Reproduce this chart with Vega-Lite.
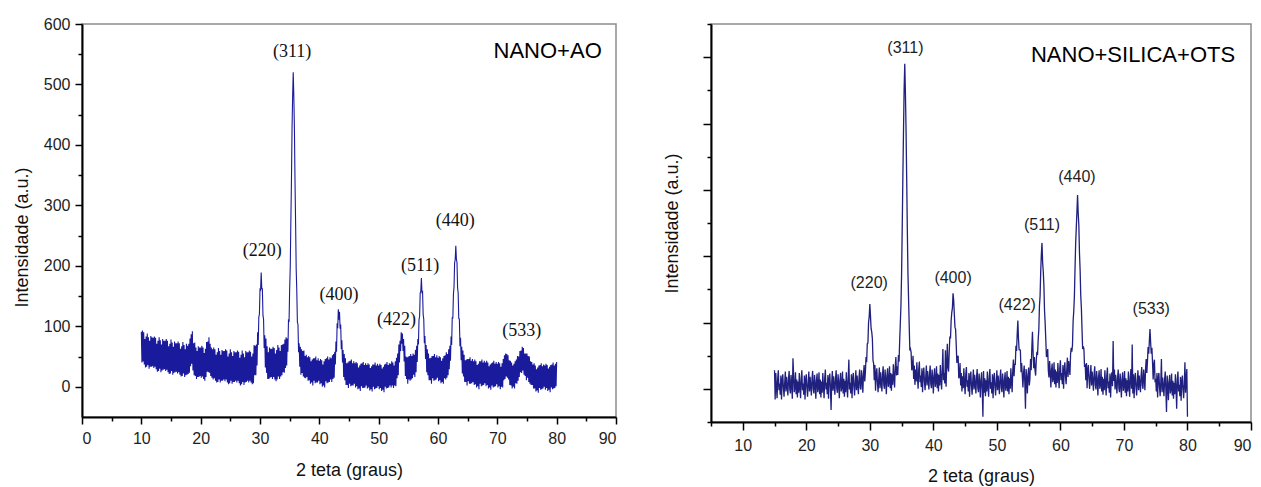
{
"$schema": "https://vega.github.io/schema/vega-lite/v6.json",
"padding": {"left": 12, "top": 15, "right": 0, "bottom": 0},
"background": "white",
"config": {
"view": {"stroke": "#8c8c8c", "strokeWidth": 1.5},
"concat": {"spacing": 44},
"axis": {"grid": false, "domainColor": "#000000", "domainWidth": 2, "tickColor": "#000000", "tickWidth": 1.5, "labelFont": "Liberation Sans", "labelFontSize": 16, "labelColor": "#1e1e1e", "labelPadding": 5, "labelOverlap": false, "titleFont": "Liberation Sans", "titleFontSize": 18, "titleFontWeight": "normal", "titleColor": "#111111"}
},
"hconcat": [
{
"width": 534, "height": 393,
"resolve": {"axis": {"x": "independent", "y": "independent"}},
"layer": [
{"data": {"values": [
{"x":10.0,"y":91},{"x":10.1,"y":40},{"x":10.2,"y":93},{"x":10.3,"y":42},{"x":10.4,"y":90},{"x":10.5,"y":37},{"x":10.6,"y":79},{"x":10.7,"y":32},{"x":10.8,"y":83},{"x":10.9,"y":33},
{"x":11.0,"y":88},{"x":11.1,"y":36},{"x":11.2,"y":82},{"x":11.3,"y":30},{"x":11.4,"y":76},{"x":11.5,"y":33},{"x":11.6,"y":84},{"x":11.7,"y":33},{"x":11.8,"y":82},{"x":11.9,"y":34},
{"x":12.0,"y":81},{"x":12.1,"y":31},{"x":12.2,"y":83},{"x":12.3,"y":33},{"x":12.4,"y":81},{"x":12.5,"y":29},{"x":12.6,"y":71},{"x":12.7,"y":25},{"x":12.8,"y":76},{"x":12.9,"y":26},
{"x":13.0,"y":82},{"x":13.1,"y":30},{"x":13.2,"y":77},{"x":13.3,"y":24},{"x":13.4,"y":70},{"x":13.5,"y":27},{"x":13.6,"y":79},{"x":13.7,"y":28},{"x":13.8,"y":76},{"x":13.9,"y":29},
{"x":14.0,"y":76},{"x":14.1,"y":26},{"x":14.2,"y":79},{"x":14.3,"y":28},{"x":14.4,"y":76},{"x":14.5,"y":24},{"x":14.6,"y":67},{"x":14.7,"y":21},{"x":14.8,"y":71},{"x":14.9,"y":22},
{"x":15.0,"y":78},{"x":15.1,"y":26},{"x":15.2,"y":73},{"x":15.3,"y":20},{"x":15.4,"y":66},{"x":15.5,"y":23},{"x":15.6,"y":75},{"x":15.7,"y":24},{"x":15.8,"y":72},{"x":15.9,"y":25},
{"x":16.0,"y":72},{"x":16.1,"y":22},{"x":16.2,"y":75},{"x":16.3,"y":24},{"x":16.4,"y":72},{"x":16.5,"y":20},{"x":16.6,"y":63},{"x":16.7,"y":17},{"x":16.8,"y":67},{"x":16.9,"y":18},
{"x":17.0,"y":74},{"x":17.1,"y":22},{"x":17.2,"y":69},{"x":17.3,"y":16},{"x":17.4,"y":62},{"x":17.5,"y":19},{"x":17.6,"y":71},{"x":17.7,"y":20},{"x":17.8,"y":68},{"x":17.9,"y":21},
{"x":18.0,"y":71},{"x":18.1,"y":23},{"x":18.2,"y":80},{"x":18.3,"y":34},{"x":18.4,"y":87},{"x":18.5,"y":38},{"x":18.6,"y":92},{"x":18.7,"y":27},{"x":18.8,"y":72},{"x":18.9,"y":19},
{"x":19.0,"y":73},{"x":19.1,"y":18},{"x":19.2,"y":65},{"x":19.3,"y":13},{"x":19.4,"y":59},{"x":19.5,"y":16},{"x":19.6,"y":67},{"x":19.7,"y":16},{"x":19.8,"y":65},{"x":19.9,"y":18},
{"x":20.0,"y":65},{"x":20.1,"y":15},{"x":20.2,"y":68},{"x":20.3,"y":17},{"x":20.4,"y":65},{"x":20.5,"y":13},{"x":20.6,"y":56},{"x":20.7,"y":10},{"x":20.8,"y":63},{"x":20.9,"y":16},
{"x":21.0,"y":74},{"x":21.1,"y":25},{"x":21.2,"y":75},{"x":21.3,"y":24},{"x":21.4,"y":82},{"x":21.5,"y":23},{"x":21.6,"y":71},{"x":21.7,"y":18},{"x":21.8,"y":65},{"x":21.9,"y":15},
{"x":22.0,"y":62},{"x":22.1,"y":12},{"x":22.2,"y":65},{"x":22.3,"y":14},{"x":22.4,"y":62},{"x":22.5,"y":10},{"x":22.6,"y":53},{"x":22.7,"y":7},{"x":22.8,"y":57},{"x":22.9,"y":8},
{"x":23.0,"y":64},{"x":23.1,"y":12},{"x":23.2,"y":59},{"x":23.3,"y":7},{"x":23.4,"y":53},{"x":23.5,"y":10},{"x":23.6,"y":61},{"x":23.7,"y":10},{"x":23.8,"y":59},{"x":23.9,"y":12},
{"x":24.0,"y":59},{"x":24.1,"y":9},{"x":24.2,"y":62},{"x":24.3,"y":12},{"x":24.4,"y":60},{"x":24.5,"y":7},{"x":24.6,"y":50},{"x":24.7,"y":4},{"x":24.8,"y":55},{"x":24.9,"y":6},
{"x":25.0,"y":62},{"x":25.1,"y":10},{"x":25.2,"y":57},{"x":25.3,"y":5},{"x":25.4,"y":51},{"x":25.5,"y":8},{"x":25.6,"y":59},{"x":25.7,"y":8},{"x":25.8,"y":57},{"x":25.9,"y":10},
{"x":26.0,"y":57},{"x":26.1,"y":7},{"x":26.2,"y":60},{"x":26.3,"y":10},{"x":26.4,"y":58},{"x":26.5,"y":6},{"x":26.6,"y":48},{"x":26.7,"y":2},{"x":26.8,"y":53},{"x":26.9,"y":4},
{"x":27.0,"y":60},{"x":27.1,"y":8},{"x":27.2,"y":55},{"x":27.3,"y":3},{"x":27.4,"y":49},{"x":27.5,"y":7},{"x":27.6,"y":59},{"x":27.7,"y":8},{"x":27.8,"y":57},{"x":27.9,"y":10},
{"x":28.0,"y":57},{"x":28.1,"y":7},{"x":28.2,"y":60},{"x":28.3,"y":10},{"x":28.4,"y":58},{"x":28.5,"y":7},{"x":28.6,"y":50},{"x":28.7,"y":4},{"x":28.8,"y":55},{"x":28.9,"y":6},
{"x":29.0,"y":69},{"x":29.1,"y":19},{"x":29.2,"y":68},{"x":29.3,"y":19},{"x":29.4,"y":70},{"x":29.5,"y":35},{"x":29.6,"y":90},{"x":29.7,"y":69},{"x":29.8,"y":115},{"x":29.9,"y":120},
{"x":30.0,"y":161},{"x":30.1,"y":160},{"x":30.2,"y":189},{"x":30.3,"y":162},{"x":30.4,"y":162},{"x":30.5,"y":118},{"x":30.6,"y":112},{"x":30.7,"y":64},{"x":30.8,"y":85},{"x":30.9,"y":32},
{"x":31.0,"y":80},{"x":31.1,"y":23},{"x":31.2,"y":67},{"x":31.3,"y":13},{"x":31.4,"y":57},{"x":31.5,"y":13},{"x":31.6,"y":65},{"x":31.7,"y":15},{"x":31.8,"y":63},{"x":31.9,"y":16},
{"x":32.0,"y":63},{"x":32.1,"y":13},{"x":32.2,"y":66},{"x":32.3,"y":16},{"x":32.4,"y":64},{"x":32.5,"y":12},{"x":32.6,"y":55},{"x":32.7,"y":9},{"x":32.8,"y":61},{"x":32.9,"y":12},
{"x":33.0,"y":69},{"x":33.1,"y":17},{"x":33.2,"y":65},{"x":33.3,"y":13},{"x":33.4,"y":59},{"x":33.5,"y":17},{"x":33.6,"y":69},{"x":33.7,"y":19},{"x":33.8,"y":70},{"x":33.9,"y":24},
{"x":34.0,"y":71},{"x":34.1,"y":23},{"x":34.2,"y":78},{"x":34.3,"y":31},{"x":34.4,"y":82},{"x":34.5,"y":35},{"x":34.6,"y":80},{"x":34.7,"y":58},{"x":34.8,"y":110},{"x":34.9,"y":109},
{"x":35.0,"y":162},{"x":35.1,"y":199},{"x":35.2,"y":273},{"x":35.3,"y":341},{"x":35.4,"y":428},{"x":35.5,"y":480},{"x":35.6,"y":520},{"x":35.7,"y":481},{"x":35.8,"y":427},{"x":35.9,"y":340},
{"x":36.0,"y":271},{"x":36.1,"y":194},{"x":36.2,"y":159},{"x":36.3,"y":107},{"x":36.4,"y":103},{"x":36.5,"y":57},{"x":36.6,"y":72},{"x":36.7,"y":33},{"x":36.8,"y":66},{"x":36.9,"y":20},
{"x":37.0,"y":62},{"x":37.1,"y":23},{"x":37.2,"y":59},{"x":37.3,"y":17},{"x":37.4,"y":60},{"x":37.5,"y":15},{"x":37.6,"y":51},{"x":37.7,"y":14},{"x":37.8,"y":53},{"x":37.9,"y":16},
{"x":38.0,"y":49},{"x":38.1,"y":10},{"x":38.2,"y":51},{"x":38.3,"y":11},{"x":38.4,"y":49},{"x":38.5,"y":5},{"x":38.6,"y":42},{"x":38.7,"y":7},{"x":38.8,"y":45},{"x":38.9,"y":2},
{"x":39.0,"y":47},{"x":39.1,"y":10},{"x":39.2,"y":47},{"x":39.3,"y":6},{"x":39.4,"y":50},{"x":39.5,"y":7},{"x":39.6,"y":44},{"x":39.7,"y":7},{"x":39.8,"y":47},{"x":39.9,"y":10},
{"x":40.0,"y":43},{"x":40.1,"y":4},{"x":40.2,"y":46},{"x":40.3,"y":6},{"x":40.4,"y":44},{"x":40.5,"y":0},{"x":40.6,"y":37},{"x":40.7,"y":2},{"x":40.8,"y":42},{"x":40.9,"y":-1},
{"x":41.0,"y":46},{"x":41.1,"y":9},{"x":41.2,"y":47},{"x":41.3,"y":6},{"x":41.4,"y":50},{"x":41.5,"y":7},{"x":41.6,"y":45},{"x":41.7,"y":8},{"x":41.8,"y":49},{"x":41.9,"y":12},
{"x":42.0,"y":47},{"x":42.1,"y":8},{"x":42.2,"y":52},{"x":42.3,"y":13},{"x":42.4,"y":54},{"x":42.5,"y":15},{"x":42.6,"y":58},{"x":42.7,"y":37},{"x":42.8,"y":75},{"x":42.9,"y":58},
{"x":43.0,"y":105},{"x":43.1,"y":97},{"x":43.2,"y":128},{"x":43.3,"y":111},{"x":43.4,"y":124},{"x":43.5,"y":96},{"x":43.6,"y":103},{"x":43.7,"y":62},{"x":43.8,"y":77},{"x":43.9,"y":40},
{"x":44.0,"y":61},{"x":44.1,"y":16},{"x":44.2,"y":54},{"x":44.3,"y":11},{"x":44.4,"y":47},{"x":44.5,"y":3},{"x":44.6,"y":39},{"x":44.7,"y":3},{"x":44.8,"y":40},{"x":44.9,"y":-2},
{"x":45.0,"y":42},{"x":45.1,"y":5},{"x":45.2,"y":43},{"x":45.3,"y":1},{"x":45.4,"y":45},{"x":45.5,"y":2},{"x":45.6,"y":39},{"x":45.7,"y":2},{"x":45.8,"y":42},{"x":45.9,"y":5},
{"x":46.0,"y":39},{"x":46.1,"y":-1},{"x":46.2,"y":41},{"x":46.3,"y":1},{"x":46.4,"y":39},{"x":46.5,"y":-4},{"x":46.6,"y":32},{"x":46.7,"y":-3},{"x":46.8,"y":35},{"x":46.9,"y":-7},
{"x":47.0,"y":38},{"x":47.1,"y":1},{"x":47.2,"y":39},{"x":47.3,"y":-2},{"x":47.4,"y":41},{"x":47.5,"y":-2},{"x":47.6,"y":36},{"x":47.7,"y":-1},{"x":47.8,"y":39},{"x":47.9,"y":2},
{"x":48.0,"y":36},{"x":48.1,"y":-3},{"x":48.2,"y":39},{"x":48.3,"y":-1},{"x":48.4,"y":37},{"x":48.5,"y":-6},{"x":48.6,"y":31},{"x":48.7,"y":-4},{"x":48.8,"y":34},{"x":48.9,"y":-8},
{"x":49.0,"y":37},{"x":49.1,"y":0},{"x":49.2,"y":37},{"x":49.3,"y":-4},{"x":49.4,"y":40},{"x":49.5,"y":-3},{"x":49.6,"y":35},{"x":49.7,"y":-2},{"x":49.8,"y":38},{"x":49.9,"y":1},
{"x":50.0,"y":35},{"x":50.1,"y":-4},{"x":50.2,"y":38},{"x":50.3,"y":-2},{"x":50.4,"y":36},{"x":50.5,"y":-7},{"x":50.6,"y":30},{"x":50.7,"y":-5},{"x":50.8,"y":33},{"x":50.9,"y":-9},
{"x":51.0,"y":37},{"x":51.1,"y":0},{"x":51.2,"y":38},{"x":51.3,"y":-3},{"x":51.4,"y":41},{"x":51.5,"y":-2},{"x":51.6,"y":36},{"x":51.7,"y":-1},{"x":51.8,"y":39},{"x":51.9,"y":2},
{"x":52.0,"y":38},{"x":52.1,"y":-1},{"x":52.2,"y":42},{"x":52.3,"y":2},{"x":52.4,"y":40},{"x":52.5,"y":-2},{"x":52.6,"y":35},{"x":52.7,"y":2},{"x":52.8,"y":42},{"x":52.9,"y":1},
{"x":53.0,"y":48},{"x":53.1,"y":14},{"x":53.2,"y":55},{"x":53.3,"y":19},{"x":53.4,"y":70},{"x":53.5,"y":40},{"x":53.6,"y":76},{"x":53.7,"y":59},{"x":53.8,"y":90},{"x":53.9,"y":71},
{"x":54.0,"y":88},{"x":54.1,"y":59},{"x":54.2,"y":79},{"x":54.3,"y":42},{"x":54.4,"y":68},{"x":54.5,"y":18},{"x":54.6,"y":50},{"x":54.7,"y":13},{"x":54.8,"y":49},{"x":54.9,"y":5},
{"x":55.0,"y":50},{"x":55.1,"y":12},{"x":55.2,"y":51},{"x":55.3,"y":10},{"x":55.4,"y":54},{"x":55.5,"y":12},{"x":55.6,"y":51},{"x":55.7,"y":14},{"x":55.8,"y":55},{"x":55.9,"y":20},
{"x":56.0,"y":53},{"x":56.1,"y":16},{"x":56.2,"y":61},{"x":56.3,"y":24},{"x":56.4,"y":68},{"x":56.5,"y":41},{"x":56.6,"y":79},{"x":56.7,"y":70},{"x":56.8,"y":111},{"x":56.9,"y":116},
{"x":57.0,"y":155},{"x":57.1,"y":158},{"x":57.2,"y":180},{"x":57.3,"y":156},{"x":57.4,"y":157},{"x":57.5,"y":119},{"x":57.6,"y":112},{"x":57.7,"y":72},{"x":57.8,"y":84},{"x":57.9,"y":46},
{"x":58.0,"y":69},{"x":58.1,"y":24},{"x":58.2,"y":62},{"x":58.3,"y":19},{"x":58.4,"y":55},{"x":58.5,"y":11},{"x":58.6,"y":47},{"x":58.7,"y":11},{"x":58.8,"y":48},{"x":58.9,"y":5},
{"x":59.0,"y":51},{"x":59.1,"y":14},{"x":59.2,"y":51},{"x":59.3,"y":10},{"x":59.4,"y":54},{"x":59.5,"y":11},{"x":59.6,"y":49},{"x":59.7,"y":12},{"x":59.8,"y":52},{"x":59.9,"y":15},
{"x":60.0,"y":48},{"x":60.1,"y":9},{"x":60.2,"y":51},{"x":60.3,"y":11},{"x":60.4,"y":49},{"x":60.5,"y":6},{"x":60.6,"y":43},{"x":60.7,"y":8},{"x":60.8,"y":47},{"x":60.9,"y":5},
{"x":61.0,"y":51},{"x":61.1,"y":14},{"x":61.2,"y":52},{"x":61.3,"y":12},{"x":61.4,"y":57},{"x":61.5,"y":15},{"x":61.6,"y":54},{"x":61.7,"y":19},{"x":61.8,"y":62},{"x":61.9,"y":29},
{"x":62.0,"y":68},{"x":62.1,"y":43},{"x":62.2,"y":83},{"x":62.3,"y":69},{"x":62.4,"y":115},{"x":62.5,"y":113},{"x":62.6,"y":153},{"x":62.7,"y":165},{"x":62.8,"y":205},{"x":62.9,"y":210},
{"x":63.0,"y":233},{"x":63.1,"y":211},{"x":63.2,"y":206},{"x":63.3,"y":164},{"x":63.4,"y":155},{"x":63.5,"y":113},{"x":63.6,"y":112},{"x":63.7,"y":67},{"x":63.8,"y":81},{"x":63.9,"y":44},
{"x":64.0,"y":66},{"x":64.1,"y":22},{"x":64.2,"y":60},{"x":64.3,"y":17},{"x":64.4,"y":53},{"x":64.5,"y":8},{"x":64.6,"y":44},{"x":64.7,"y":8},{"x":64.8,"y":45},{"x":64.9,"y":2},
{"x":65.0,"y":46},{"x":65.1,"y":9},{"x":65.2,"y":46},{"x":65.3,"y":5},{"x":65.4,"y":49},{"x":65.5,"y":5},{"x":65.6,"y":43},{"x":65.7,"y":6},{"x":65.8,"y":46},{"x":65.9,"y":8},
{"x":66.0,"y":42},{"x":66.1,"y":3},{"x":66.2,"y":45},{"x":66.3,"y":4},{"x":66.4,"y":42},{"x":66.5,"y":-1},{"x":66.6,"y":36},{"x":66.7,"y":1},{"x":66.8,"y":38},{"x":66.9,"y":-4},
{"x":67.0,"y":42},{"x":67.1,"y":5},{"x":67.2,"y":42},{"x":67.3,"y":1},{"x":67.4,"y":45},{"x":67.5,"y":2},{"x":67.6,"y":40},{"x":67.7,"y":3},{"x":67.8,"y":43},{"x":67.9,"y":6},
{"x":68.0,"y":40},{"x":68.1,"y":1},{"x":68.2,"y":43},{"x":68.3,"y":3},{"x":68.4,"y":40},{"x":68.5,"y":-3},{"x":68.6,"y":34},{"x":68.7,"y":-1},{"x":68.8,"y":37},{"x":68.9,"y":-5},
{"x":69.0,"y":39},{"x":69.1,"y":2},{"x":69.2,"y":40},{"x":69.3,"y":-1},{"x":69.4,"y":43},{"x":69.5,"y":0},{"x":69.6,"y":38},{"x":69.7,"y":1},{"x":69.8,"y":41},{"x":69.9,"y":4},
{"x":70.0,"y":38},{"x":70.1,"y":-1},{"x":70.2,"y":41},{"x":70.3,"y":1},{"x":70.4,"y":39},{"x":70.5,"y":-4},{"x":70.6,"y":33},{"x":70.7,"y":0},{"x":70.8,"y":39},{"x":70.9,"y":-1},
{"x":71.0,"y":46},{"x":71.1,"y":11},{"x":71.2,"y":52},{"x":71.3,"y":13},{"x":71.4,"y":55},{"x":71.5,"y":17},{"x":71.6,"y":54},{"x":71.7,"y":15},{"x":71.8,"y":52},{"x":71.9,"y":12},
{"x":72.0,"y":44},{"x":72.1,"y":3},{"x":72.2,"y":43},{"x":72.3,"y":2},{"x":72.4,"y":40},{"x":72.5,"y":-3},{"x":72.6,"y":35},{"x":72.7,"y":0},{"x":72.8,"y":38},{"x":72.9,"y":-3},
{"x":73.0,"y":42},{"x":73.1,"y":6},{"x":73.2,"y":45},{"x":73.3,"y":5},{"x":73.4,"y":51},{"x":73.5,"y":10},{"x":73.6,"y":50},{"x":73.7,"y":16},{"x":73.8,"y":59},{"x":73.9,"y":24},
{"x":74.0,"y":60},{"x":74.1,"y":23},{"x":74.2,"y":66},{"x":74.3,"y":27},{"x":74.4,"y":64},{"x":74.5,"y":20},{"x":74.6,"y":55},{"x":74.7,"y":18},{"x":74.8,"y":55},{"x":74.9,"y":11},
{"x":75.0,"y":55},{"x":75.1,"y":15},{"x":75.2,"y":51},{"x":75.3,"y":8},{"x":75.4,"y":50},{"x":75.5,"y":5},{"x":75.6,"y":42},{"x":75.7,"y":3},{"x":75.8,"y":41},{"x":75.9,"y":3},
{"x":76.0,"y":37},{"x":76.1,"y":-3},{"x":76.2,"y":39},{"x":76.3,"y":-3},{"x":76.4,"y":35},{"x":76.5,"y":-8},{"x":76.6,"y":29},{"x":76.7,"y":-6},{"x":76.8,"y":32},{"x":76.9,"y":-10},
{"x":77.0,"y":35},{"x":77.1,"y":-2},{"x":77.2,"y":36},{"x":77.3,"y":-5},{"x":77.4,"y":39},{"x":77.5,"y":-4},{"x":77.6,"y":34},{"x":77.7,"y":-3},{"x":77.8,"y":37},{"x":77.9,"y":0},
{"x":78.0,"y":35},{"x":78.1,"y":-5},{"x":78.2,"y":38},{"x":78.3,"y":-2},{"x":78.4,"y":36},{"x":78.5,"y":-7},{"x":78.6,"y":30},{"x":78.7,"y":-5},{"x":78.8,"y":33},{"x":78.9,"y":-9},
{"x":79.0,"y":36},{"x":79.1,"y":-1},{"x":79.2,"y":37},{"x":79.3,"y":-4},{"x":79.4,"y":40},{"x":79.5,"y":-3},{"x":79.6,"y":35},{"x":79.7,"y":-2},{"x":79.8,"y":38},{"x":79.9,"y":1},
{"x":80.0,"y":41}
]},
"mark": {"type": "line", "color": "#1a1a9c", "strokeWidth": 1.1},
"encoding": {
"x": {"field": "x", "type": "quantitative", "scale": {"domain": [0, 90], "nice": false, "zero": false},
"axis": {"title": "2 teta (graus)", "orient": "bottom", "values": [0,10,20,30,40,50,60,70,80,90], "tickSize": 7, "labelPadding": 6, "titlePadding": 15}},
"y": {"field": "y", "type": "quantitative", "scale": {"domain": [-50, 600], "nice": false, "zero": false},
"axis": {"title": "Intensidade (a.u.)", "orient": "left", "values": [0,100,200,300,400,500,600], "tickSize": 7, "titlePadding": 12, "titleY": 213}}
}},
{"data": {"values": [
{"x":35.4,"y":553,"label":"(311)"},{"x":30.4,"y":224,"label":"(220)"},{"x":43.3,"y":151,"label":"(400)"},{"x":53.0,"y":111,"label":"(422)"},{"x":57.0,"y":199,"label":"(511)"},{"x":62.9,"y":275,"label":"(440)"},{"x":74.1,"y":92,"label":"(533)"}
]},
"mark": {"type": "text", "font": "Liberation Serif", "fontSize": 18, "color": "#111111", "baseline": "middle", "align": "center"},
"encoding": {
"x": {"field": "x", "type": "quantitative", "axis": {"orient": "bottom", "values": [5,15,25,35,45,55,65,75,85], "tickSize": 4, "labels": false, "domain": false, "title": null}},
"y": {"field": "y", "type": "quantitative", "axis": {"orient": "left", "values": [50,150,250,350,450,550], "tickSize": 4, "labels": false, "domain": false, "title": null}},
"text": {"field": "label", "type": "nominal"}}},
{"data": {"values": [{"x":87.6,"y":556,"label":"NANO+AO"}]},
"mark": {"type": "text", "font": "Liberation Sans", "fontSize": 22, "color": "#000000", "baseline": "middle", "align": "right"},
"encoding": {"x": {"field": "x", "type": "quantitative", "axis": null}, "y": {"field": "y", "type": "quantitative", "axis": null}, "text": {"field": "label", "type": "nominal"}}}
]
},
{
"width": 540, "height": 398,
"resolve": {"axis": {"x": "independent", "y": "independent"}},
"layer": [
{"data": {"values": [
{"x":15.0,"y":28},{"x":15.1,"y":-16},{"x":15.2,"y":24},{"x":15.3,"y":3},{"x":15.4,"y":-14},{"x":15.5,"y":16},{"x":15.6,"y":28},{"x":15.7,"y":-2},{"x":15.8,"y":8},{"x":15.9,"y":-9},
{"x":16.0,"y":20},{"x":16.1,"y":-16},{"x":16.2,"y":13},{"x":16.3,"y":22},{"x":16.4,"y":1},{"x":16.5,"y":-12},{"x":16.6,"y":9},{"x":16.7,"y":26},{"x":16.8,"y":-4},{"x":16.9,"y":18},
{"x":17.0,"y":4},{"x":17.1,"y":-10},{"x":17.2,"y":15},{"x":17.3,"y":27},{"x":17.4,"y":-1},{"x":17.5,"y":-7},{"x":17.6,"y":21},{"x":17.7,"y":7},{"x":17.8,"y":-15},{"x":17.9,"y":46},
{"x":18.0,"y":23},{"x":18.1,"y":-5},{"x":18.2,"y":2},{"x":18.3,"y":25},{"x":18.4,"y":-8},{"x":18.5,"y":14},{"x":18.6,"y":-13},{"x":18.7,"y":11},{"x":18.8,"y":-6},{"x":18.9,"y":24},
{"x":19.0,"y":3},{"x":19.1,"y":-14},{"x":19.2,"y":16},{"x":19.3,"y":28},{"x":19.4,"y":-2},{"x":19.5,"y":8},{"x":19.6,"y":-9},{"x":19.7,"y":20},{"x":19.8,"y":-16},{"x":19.9,"y":13},
{"x":20.0,"y":22},{"x":20.1,"y":1},{"x":20.2,"y":-12},{"x":20.3,"y":9},{"x":20.4,"y":26},{"x":20.5,"y":-4},{"x":20.6,"y":18},{"x":20.7,"y":4},{"x":20.8,"y":-10},{"x":20.9,"y":15},
{"x":21.0,"y":27},{"x":21.1,"y":-1},{"x":21.2,"y":-7},{"x":21.3,"y":21},{"x":21.4,"y":7},{"x":21.5,"y":-15},{"x":21.6,"y":12},{"x":21.7,"y":23},{"x":21.8,"y":-5},{"x":21.9,"y":2},
{"x":22.0,"y":25},{"x":22.1,"y":-8},{"x":22.2,"y":14},{"x":22.3,"y":-13},{"x":22.4,"y":11},{"x":22.5,"y":-6},{"x":22.6,"y":24},{"x":22.7,"y":3},{"x":22.8,"y":-14},{"x":22.9,"y":16},
{"x":23.0,"y":29},{"x":23.1,"y":-1},{"x":23.2,"y":9},{"x":23.3,"y":-8},{"x":23.4,"y":21},{"x":23.5,"y":-15},{"x":23.6,"y":14},{"x":23.7,"y":23},{"x":23.8,"y":2},{"x":23.9,"y":-32},
{"x":24.0,"y":10},{"x":24.1,"y":27},{"x":24.2,"y":-3},{"x":24.3,"y":19},{"x":24.4,"y":5},{"x":24.5,"y":-9},{"x":24.6,"y":16},{"x":24.7,"y":28},{"x":24.8,"y":0},{"x":24.9,"y":-6},
{"x":25.0,"y":22},{"x":25.1,"y":8},{"x":25.2,"y":-14},{"x":25.3,"y":13},{"x":25.4,"y":24},{"x":25.5,"y":-4},{"x":25.6,"y":3},{"x":25.7,"y":26},{"x":25.8,"y":-7},{"x":25.9,"y":15},
{"x":26.0,"y":-12},{"x":26.1,"y":12},{"x":26.2,"y":-5},{"x":26.3,"y":25},{"x":26.4,"y":4},{"x":26.5,"y":-13},{"x":26.6,"y":17},{"x":26.7,"y":44},{"x":26.8,"y":-1},{"x":26.9,"y":9},
{"x":27.0,"y":-7},{"x":27.1,"y":22},{"x":27.2,"y":-14},{"x":27.3,"y":15},{"x":27.4,"y":24},{"x":27.5,"y":3},{"x":27.6,"y":-10},{"x":27.7,"y":11},{"x":27.8,"y":28},{"x":27.9,"y":-2},
{"x":28.0,"y":20},{"x":28.1,"y":6},{"x":28.2,"y":-8},{"x":28.3,"y":17},{"x":28.4,"y":29},{"x":28.5,"y":1},{"x":28.6,"y":-1},{"x":28.7,"y":28},{"x":28.8,"y":15},{"x":28.9,"y":-6},
{"x":29.0,"y":22},{"x":29.1,"y":36},{"x":29.2,"y":11},{"x":29.3,"y":24},{"x":29.4,"y":48},{"x":29.5,"y":40},{"x":29.6,"y":68},{"x":29.7,"y":69},{"x":29.8,"y":100},{"x":29.9,"y":108},
{"x":30.0,"y":128},{"x":30.1,"y":111},{"x":30.2,"y":91},{"x":30.3,"y":86},{"x":30.4,"y":76},{"x":30.5,"y":43},{"x":30.6,"y":38},{"x":30.7,"y":13},{"x":30.8,"y":36},{"x":30.9,"y":-3},
{"x":31.0,"y":23},{"x":31.1,"y":31},{"x":31.2,"y":9},{"x":31.3,"y":-5},{"x":31.4,"y":15},{"x":31.5,"y":32},{"x":31.6,"y":1},{"x":31.7,"y":25},{"x":31.8,"y":10},{"x":31.9,"y":-4},
{"x":32.0,"y":22},{"x":32.1,"y":34},{"x":32.2,"y":6},{"x":32.3,"y":0},{"x":32.4,"y":29},{"x":32.5,"y":14},{"x":32.6,"y":-8},{"x":32.7,"y":20},{"x":32.8,"y":31},{"x":32.9,"y":3},
{"x":33.0,"y":10},{"x":33.1,"y":34},{"x":33.2,"y":1},{"x":33.3,"y":24},{"x":33.4,"y":-3},{"x":33.5,"y":22},{"x":33.6,"y":6},{"x":33.7,"y":37},{"x":33.8,"y":17},{"x":33.9,"y":2},
{"x":34.0,"y":33},{"x":34.1,"y":48},{"x":34.2,"y":20},{"x":34.3,"y":34},{"x":34.4,"y":21},{"x":34.5,"y":51},{"x":34.6,"y":41},{"x":34.7,"y":73},{"x":34.8,"y":99},{"x":34.9,"y":126},
{"x":35.0,"y":173},{"x":35.1,"y":243},{"x":35.2,"y":319},{"x":35.3,"y":388},{"x":35.4,"y":452},{"x":35.5,"y":490},{"x":35.6,"y":447},{"x":35.7,"y":392},{"x":35.8,"y":319},{"x":35.9,"y":242},
{"x":36.0,"y":175},{"x":36.1,"y":135},{"x":36.2,"y":96},{"x":36.3,"y":58},{"x":36.4,"y":60},{"x":36.5,"y":55},{"x":36.6,"y":28},{"x":36.7,"y":31},{"x":36.8,"y":50},{"x":36.9,"y":15},
{"x":37.0,"y":35},{"x":37.1,"y":6},{"x":37.2,"y":29},{"x":37.3,"y":11},{"x":37.4,"y":40},{"x":37.5,"y":18},{"x":37.6,"y":0},{"x":37.7,"y":30},{"x":37.8,"y":41},{"x":37.9,"y":10},
{"x":38.0,"y":20},{"x":38.1,"y":3},{"x":38.2,"y":31},{"x":38.3,"y":-5},{"x":38.4,"y":23},{"x":38.5,"y":32},{"x":38.6,"y":11},{"x":38.7,"y":-2},{"x":38.8,"y":18},{"x":38.9,"y":35},
{"x":39.0,"y":5},{"x":39.1,"y":27},{"x":39.2,"y":13},{"x":39.3,"y":-1},{"x":39.4,"y":23},{"x":39.5,"y":35},{"x":39.6,"y":7},{"x":39.7,"y":1},{"x":39.8,"y":29},{"x":39.9,"y":15},
{"x":40.0,"y":-7},{"x":40.1,"y":20},{"x":40.2,"y":31},{"x":40.3,"y":3},{"x":40.4,"y":10},{"x":40.5,"y":34},{"x":40.6,"y":1},{"x":40.7,"y":23},{"x":40.8,"y":-4},{"x":40.9,"y":21},
{"x":41.0,"y":5},{"x":41.1,"y":36},{"x":41.2,"y":15},{"x":41.3,"y":-1},{"x":41.4,"y":29},{"x":41.5,"y":60},{"x":41.6,"y":13},{"x":41.7,"y":24},{"x":41.8,"y":8},{"x":41.9,"y":58},
{"x":42.0,"y":3},{"x":42.1,"y":35},{"x":42.2,"y":68},{"x":42.3,"y":32},{"x":42.4,"y":26},{"x":42.5,"y":56},{"x":42.6,"y":79},{"x":42.7,"y":76},{"x":42.8,"y":103},{"x":42.9,"y":115},
{"x":43.0,"y":122},{"x":43.1,"y":144},{"x":43.2,"y":134},{"x":43.3,"y":113},{"x":43.4,"y":93},{"x":43.5,"y":90},{"x":43.6,"y":67},{"x":43.7,"y":39},{"x":43.8,"y":47},{"x":43.9,"y":50},
{"x":44.0,"y":16},{"x":44.1,"y":19},{"x":44.2,"y":39},{"x":44.3,"y":5},{"x":44.4,"y":24},{"x":44.5,"y":-4},{"x":44.6,"y":19},{"x":44.7,"y":1},{"x":44.8,"y":31},{"x":44.9,"y":9},
{"x":45.0,"y":-8},{"x":45.1,"y":22},{"x":45.2,"y":33},{"x":45.3,"y":3},{"x":45.4,"y":13},{"x":45.5,"y":-4},{"x":45.6,"y":24},{"x":45.7,"y":-12},{"x":45.8,"y":17},{"x":45.9,"y":26},
{"x":46.0,"y":4},{"x":46.1,"y":-9},{"x":46.2,"y":12},{"x":46.3,"y":29},{"x":46.4,"y":-1},{"x":46.5,"y":21},{"x":46.6,"y":7},{"x":46.7,"y":-7},{"x":46.8,"y":18},{"x":46.9,"y":30},
{"x":47.0,"y":1},{"x":47.1,"y":-5},{"x":47.2,"y":23},{"x":47.3,"y":9},{"x":47.4,"y":-13},{"x":47.5,"y":14},{"x":47.6,"y":25},{"x":47.7,"y":-3},{"x":47.8,"y":-42},{"x":47.9,"y":27},
{"x":48.0,"y":-6},{"x":48.1,"y":16},{"x":48.2,"y":-11},{"x":48.3,"y":13},{"x":48.4,"y":-4},{"x":48.5,"y":26},{"x":48.6,"y":5},{"x":48.7,"y":-12},{"x":48.8,"y":18},{"x":48.9,"y":30},
{"x":49.0,"y":0},{"x":49.1,"y":10},{"x":49.2,"y":-7},{"x":49.3,"y":22},{"x":49.4,"y":-14},{"x":49.5,"y":15},{"x":49.6,"y":24},{"x":49.7,"y":3},{"x":49.8,"y":-10},{"x":49.9,"y":11},
{"x":50.0,"y":28},{"x":50.1,"y":-2},{"x":50.2,"y":20},{"x":50.3,"y":6},{"x":50.4,"y":-8},{"x":50.5,"y":17},{"x":50.6,"y":29},{"x":50.7,"y":1},{"x":50.8,"y":-5},{"x":50.9,"y":23},
{"x":51.0,"y":9},{"x":51.1,"y":-13},{"x":51.2,"y":14},{"x":51.3,"y":25},{"x":51.4,"y":-3},{"x":51.5,"y":4},{"x":51.6,"y":27},{"x":51.7,"y":-4},{"x":51.8,"y":18},{"x":51.9,"y":-8},
{"x":52.0,"y":16},{"x":52.1,"y":0},{"x":52.2,"y":31},{"x":52.3,"y":11},{"x":52.4,"y":-5},{"x":52.5,"y":28},{"x":52.6,"y":44},{"x":52.7,"y":19},{"x":52.8,"y":37},{"x":52.9,"y":37},
{"x":53.0,"y":65},{"x":53.1,"y":57},{"x":53.2,"y":83},{"x":53.3,"y":103},{"x":53.4,"y":76},{"x":53.5,"y":59},{"x":53.6,"y":59},{"x":53.7,"y":58},{"x":53.8,"y":25},{"x":53.9,"y":39},
{"x":54.0,"y":20},{"x":54.1,"y":2},{"x":54.2,"y":24},{"x":54.3,"y":35},{"x":54.4,"y":9},{"x":54.5,"y":-30},{"x":54.6,"y":30},{"x":54.7,"y":16},{"x":54.8,"y":-7},{"x":54.9,"y":21},
{"x":55.0,"y":32},{"x":55.1,"y":5},{"x":55.2,"y":15},{"x":55.3,"y":45},{"x":55.4,"y":28},{"x":55.5,"y":62},{"x":55.6,"y":86},{"x":55.7,"y":55},{"x":55.8,"y":31},{"x":55.9,"y":48},
{"x":56.0,"y":28},{"x":56.1,"y":20},{"x":56.2,"y":43},{"x":56.3,"y":56},{"x":56.4,"y":51},{"x":56.5,"y":74},{"x":56.6,"y":89},{"x":56.7,"y":125},{"x":56.8,"y":140},{"x":56.9,"y":177},
{"x":57.0,"y":203},{"x":57.1,"y":220},{"x":57.2,"y":191},{"x":57.3,"y":177},{"x":57.4,"y":156},{"x":57.5,"y":118},{"x":57.6,"y":99},{"x":57.7,"y":74},{"x":57.8,"y":48},{"x":57.9,"y":50},
{"x":58.0,"y":60},{"x":58.1,"y":27},{"x":58.2,"y":17},{"x":58.3,"y":42},{"x":58.4,"y":26},{"x":58.5,"y":2},{"x":58.6,"y":28},{"x":58.7,"y":38},{"x":58.8,"y":10},{"x":58.9,"y":16},
{"x":59.0,"y":40},{"x":59.1,"y":7},{"x":59.2,"y":29},{"x":59.3,"y":2},{"x":59.4,"y":26},{"x":59.5,"y":9},{"x":59.6,"y":39},{"x":59.7,"y":18},{"x":59.8,"y":1},{"x":59.9,"y":31},
{"x":60.0,"y":43},{"x":60.1,"y":13},{"x":60.2,"y":24},{"x":60.3,"y":7},{"x":60.4,"y":36},{"x":60.5,"y":0},{"x":60.6,"y":29},{"x":60.7,"y":40},{"x":60.8,"y":19},{"x":60.9,"y":7},
{"x":61.0,"y":29},{"x":61.1,"y":47},{"x":61.2,"y":18},{"x":61.3,"y":42},{"x":61.4,"y":31},{"x":61.5,"y":21},{"x":61.6,"y":52},{"x":61.7,"y":62},{"x":61.8,"y":56},{"x":61.9,"y":66},
{"x":62.0,"y":102},{"x":62.1,"y":117},{"x":62.2,"y":139},{"x":62.3,"y":181},{"x":62.4,"y":219},{"x":62.5,"y":243},{"x":62.6,"y":267},{"x":62.7,"y":292},{"x":62.8,"y":265},{"x":62.9,"y":247},
{"x":63.0,"y":205},{"x":63.1,"y":180},{"x":63.2,"y":141},{"x":63.3,"y":122},{"x":63.4,"y":90},{"x":63.5,"y":60},{"x":63.6,"y":64},{"x":63.7,"y":60},{"x":63.8,"y":33},{"x":63.9,"y":37},
{"x":64.0,"y":13},{"x":64.1,"y":39},{"x":64.2,"y":1},{"x":64.3,"y":29},{"x":64.4,"y":36},{"x":64.5,"y":14},{"x":64.6,"y":0},{"x":64.7,"y":20},{"x":64.8,"y":36},{"x":64.9,"y":5},
{"x":65.0,"y":26},{"x":65.1,"y":12},{"x":65.2,"y":-3},{"x":65.3,"y":22},{"x":65.4,"y":34},{"x":65.5,"y":6},{"x":65.6,"y":-1},{"x":65.7,"y":27},{"x":65.8,"y":13},{"x":65.9,"y":-10},
{"x":66.0,"y":17},{"x":66.1,"y":28},{"x":66.2,"y":0},{"x":66.3,"y":7},{"x":66.4,"y":30},{"x":66.5,"y":-4},{"x":66.6,"y":18},{"x":66.7,"y":-9},{"x":66.8,"y":15},{"x":66.9,"y":-2},
{"x":67.0,"y":28},{"x":67.1,"y":7},{"x":67.2,"y":-10},{"x":67.3,"y":20},{"x":67.4,"y":32},{"x":67.5,"y":1},{"x":67.6,"y":11},{"x":67.7,"y":-6},{"x":67.8,"y":23},{"x":67.9,"y":-13},
{"x":68.0,"y":16},{"x":68.1,"y":25},{"x":68.2,"y":4},{"x":68.3,"y":72},{"x":68.4,"y":12},{"x":68.5,"y":29},{"x":68.6,"y":-1},{"x":68.7,"y":21},{"x":68.8,"y":7},{"x":68.9,"y":-7},
{"x":69.0,"y":17},{"x":69.1,"y":29},{"x":69.2,"y":1},{"x":69.3,"y":-5},{"x":69.4,"y":23},{"x":69.5,"y":9},{"x":69.6,"y":-13},{"x":69.7,"y":14},{"x":69.8,"y":25},{"x":69.9,"y":-3},
{"x":70.0,"y":4},{"x":70.1,"y":27},{"x":70.2,"y":-6},{"x":70.3,"y":16},{"x":70.4,"y":-11},{"x":70.5,"y":13},{"x":70.6,"y":-4},{"x":70.7,"y":26},{"x":70.8,"y":5},{"x":70.9,"y":-12},
{"x":71.0,"y":18},{"x":71.1,"y":30},{"x":71.2,"y":0},{"x":71.3,"y":67},{"x":71.4,"y":-7},{"x":71.5,"y":22},{"x":71.6,"y":-14},{"x":71.7,"y":15},{"x":71.8,"y":24},{"x":71.9,"y":3},
{"x":72.0,"y":-10},{"x":72.1,"y":11},{"x":72.2,"y":28},{"x":72.3,"y":-2},{"x":72.4,"y":20},{"x":72.5,"y":8},{"x":72.6,"y":-5},{"x":72.7,"y":20},{"x":72.8,"y":33},{"x":72.9,"y":5},
{"x":73.0,"y":0},{"x":73.1,"y":29},{"x":73.2,"y":17},{"x":73.3,"y":-2},{"x":73.4,"y":29},{"x":73.5,"y":45},{"x":73.6,"y":24},{"x":73.7,"y":41},{"x":73.8,"y":63},{"x":73.9,"y":53},
{"x":74.0,"y":72},{"x":74.1,"y":90},{"x":74.2,"y":70},{"x":74.3,"y":53},{"x":74.4,"y":62},{"x":74.5,"y":40},{"x":74.6,"y":14},{"x":74.7,"y":37},{"x":74.8,"y":44},{"x":74.9,"y":10},
{"x":75.0,"y":15},{"x":75.1,"y":-4},{"x":75.2,"y":24},{"x":75.3,"y":-13},{"x":75.4,"y":16},{"x":75.5,"y":24},{"x":75.6,"y":3},{"x":75.7,"y":-11},{"x":75.8,"y":10},{"x":75.9,"y":45},
{"x":76.0,"y":-5},{"x":76.1,"y":17},{"x":76.2,"y":3},{"x":76.3,"y":-11},{"x":76.4,"y":14},{"x":76.5,"y":26},{"x":76.6,"y":-2},{"x":76.7,"y":-35},{"x":76.8,"y":20},{"x":76.9,"y":6},
{"x":77.0,"y":-17},{"x":77.1,"y":10},{"x":77.2,"y":21},{"x":77.3,"y":-7},{"x":77.4,"y":0},{"x":77.5,"y":23},{"x":77.6,"y":-10},{"x":77.7,"y":12},{"x":77.8,"y":-15},{"x":77.9,"y":9},
{"x":78.0,"y":-8},{"x":78.1,"y":22},{"x":78.2,"y":1},{"x":78.3,"y":-30},{"x":78.4,"y":14},{"x":78.5,"y":26},{"x":78.6,"y":-4},{"x":78.7,"y":6},{"x":78.8,"y":-11},{"x":78.9,"y":18},
{"x":79.0,"y":-18},{"x":79.1,"y":11},{"x":79.2,"y":20},{"x":79.3,"y":-1},{"x":79.4,"y":-14},{"x":79.5,"y":7},{"x":79.6,"y":40},{"x":79.7,"y":-6},{"x":79.8,"y":16},{"x":79.9,"y":30},
{"x":80.0,"y":-42}
]},
"mark": {"type": "line", "color": "#20207e", "strokeWidth": 1.3},
"encoding": {
"x": {"field": "x", "type": "quantitative", "scale": {"domain": [5, 90], "nice": false, "zero": false},
"axis": {"title": "2 teta (graus)", "orient": "bottom", "values": [10,20,30,40,50,60,70,80,90], "tickSize": 8, "labelPadding": 7, "titlePadding": 14}},
"y": {"field": "y", "type": "quantitative", "scale": {"domain": [-50, 550], "nice": false, "zero": false},
"axis": {"title": "Intensidade (a.u.)", "orient": "left", "values": [0,100,200,300,400,500], "labels": false, "tickSize": 8, "titlePadding": 21}}
}},
{"data": {"values": [
{"x":35.6,"y":514,"label":"(311)"},{"x":29.9,"y":160,"label":"(220)"},{"x":43.1,"y":167,"label":"(400)"},{"x":53.2,"y":127,"label":"(422)"},{"x":57.1,"y":247,"label":"(511)"},{"x":62.6,"y":320,"label":"(440)"},{"x":74.3,"y":121,"label":"(533)"}
]},
"mark": {"type": "text", "font": "Liberation Sans", "fontSize": 16, "color": "#1e1e1e", "baseline": "middle", "align": "center"},
"encoding": {
"x": {"field": "x", "type": "quantitative", "axis": {"orient": "bottom", "values": [5,15,25,35,45,55,65,75,85], "tickSize": 4, "labels": false, "domain": false, "title": null}},
"y": {"field": "y", "type": "quantitative", "axis": {"orient": "left", "values": [-50,50,150,250,350,450,550], "tickSize": 4, "labels": false, "domain": false, "title": null}},
"text": {"field": "label", "type": "nominal"}}},
{"data": {"values": [{"x":87.5,"y":504,"label":"NANO+SILICA+OTS"}]},
"mark": {"type": "text", "font": "Liberation Sans", "fontSize": 22, "color": "#000000", "baseline": "middle", "align": "right"},
"encoding": {"x": {"field": "x", "type": "quantitative", "axis": null}, "y": {"field": "y", "type": "quantitative", "axis": null}, "text": {"field": "label", "type": "nominal"}}}
]
}
]
}
